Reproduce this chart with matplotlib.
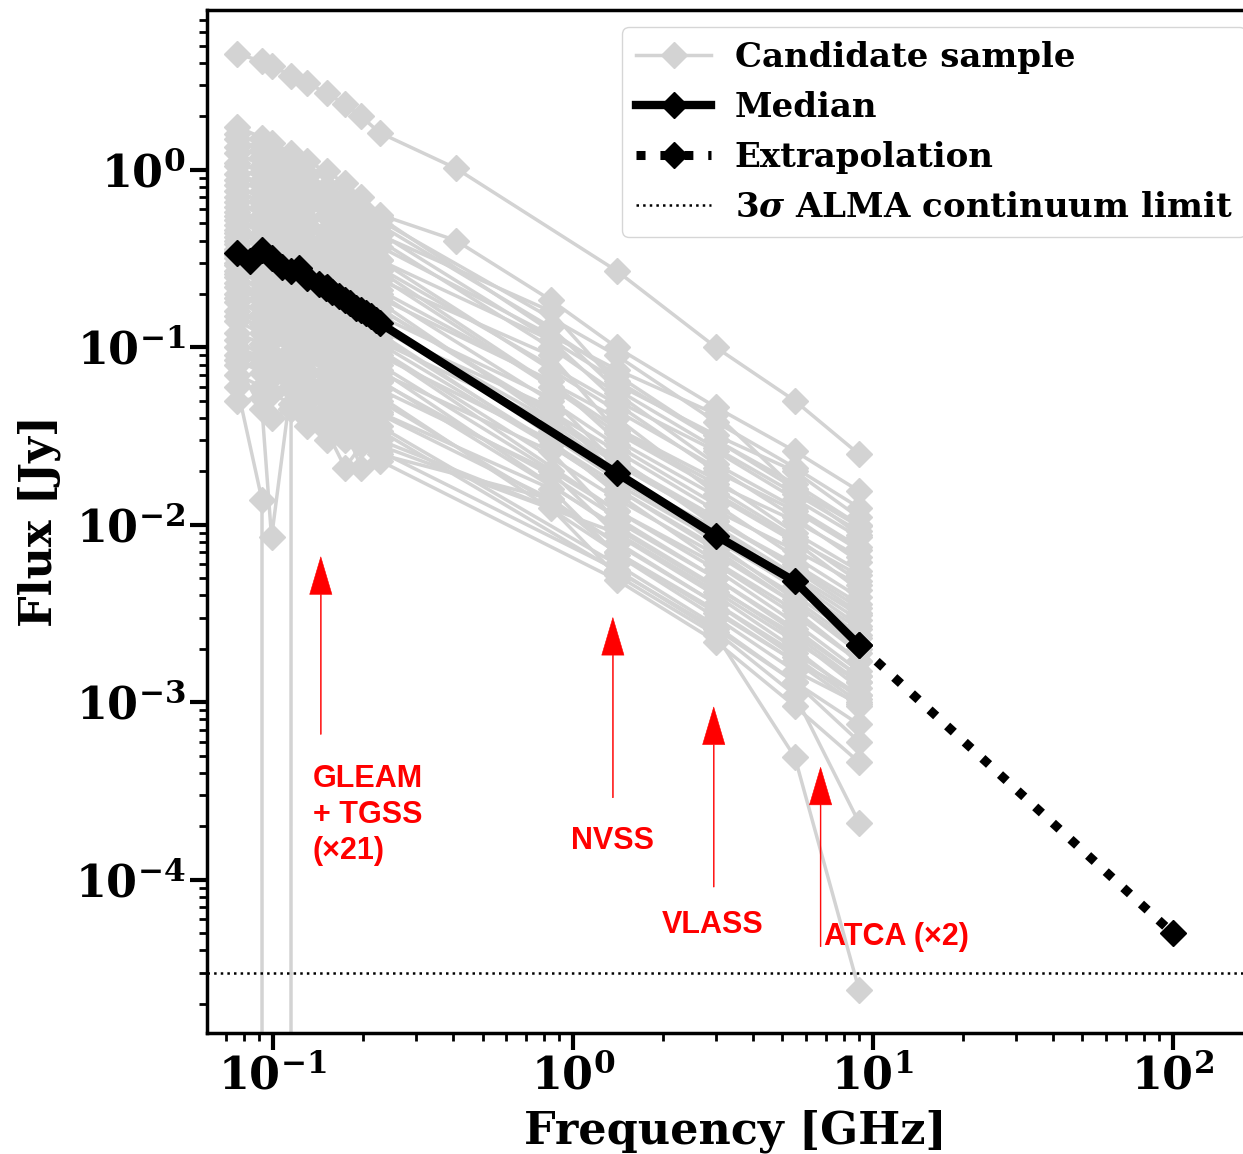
import numpy as np
import matplotlib

matplotlib.use("Agg")
import matplotlib.pyplot as plt

nan = np.nan

# frequencies [GHz]
low_freqs = [0.076, 0.092, 0.099, 0.115, 0.130, 0.151, 0.174, 0.197, 0.227]  # GLEAM + TGSS
freq_mrc = 0.408
freq_sumss = 0.843
freq_nvss = 1.4
freq_vlass = 3.0
freq_atca = [5.5, 9.0]

# candidate sample, flux [Jy] at low_freqs
low_flux = [
    [4.5, 4.1, 3.85, 3.4, 3.1, 2.7, 2.35, 2.0, 1.62],
    [1.75, 1.52, 1.42, 1.25, 1.12, 0.98, 0.84, 0.70, 0.56],
    [1.5, 1.3, 1.22, 1.05, 0.92, 0.80, 0.70, 0.60, 0.52],
    [1.25, 1.05, 0.98, 0.86, 0.74, 0.66, 0.58, 0.50, 0.43],
    [1.05, 0.88, 0.84, 0.72, 0.64, 0.55, 0.48, 0.43, 0.37],
    [0.88, 0.76, 0.68, 0.60, 0.53, 0.46, 0.41, 0.36, 0.31],
    [0.76, 0.66, 0.60, 0.52, 0.47, 0.40, 0.35, 0.31, 0.28],
    [0.66, 0.55, 0.52, 0.45, 0.40, 0.35, 0.31, 0.27, 0.24],
    [0.58, 0.50, 0.45, 0.40, 0.35, 0.30, 0.27, 0.24, 0.21],
    [0.52, 0.44, 0.41, 0.36, 0.31, 0.28, 0.24, 0.21, 0.19],
    [0.46, 0.39, 0.37, 0.31, 0.28, 0.24, 0.21, 0.19, 0.165],
    [0.42, 0.36, 0.32, 0.29, 0.25, 0.22, 0.19, 0.17, 0.15],
    [0.38, 0.33, 0.30, 0.26, 0.23, 0.20, 0.18, 0.155, 0.135],
    [0.35, 0.30, 0.27, 0.24, 0.21, 0.185, 0.16, 0.145, 0.125],
    [0.32, 0.28, 0.25, 0.22, 0.19, 0.17, 0.15, 0.13, 0.115],
    [0.30, 0.25, 0.23, 0.205, 0.18, 0.16, 0.14, 0.12, 0.108],
    [0.27, 0.23, 0.21, 0.185, 0.165, 0.14, 0.125, 0.11, 0.097],
    [0.25, 0.21, 0.20, 0.17, 0.15, 0.13, 0.115, 0.10, 0.09],
    [0.22, 0.19, 0.17, 0.15, 0.135, 0.115, 0.10, 0.09, 0.08],
    [0.20, 0.17, 0.16, 0.135, 0.12, 0.105, 0.092, 0.082, 0.072],
    [0.18, 0.155, 0.14, 0.125, 0.108, 0.095, 0.083, 0.073, 0.065],
    [0.16, 0.135, 0.125, 0.11, 0.097, 0.085, 0.075, 0.065, 0.058],
    [0.14, 0.12, 0.11, 0.096, 0.085, 0.074, 0.065, 0.057, 0.050],
    [0.12, 0.105, 0.092, 0.082, 0.073, 0.064, 0.056, 0.049, 0.043],
    [0.10, 0.088, 0.078, 0.070, 0.060, 0.053, 0.047, 0.041, 0.036],
    [0.085, 0.072, 0.068, 0.058, 0.052, 0.045, 0.040, 0.035, 0.030],
    [0.07, 0.060, 0.055, 0.048, 0.043, 0.037, 0.033, 0.029, 0.026],
    [0.05, 0.052, 0.040, 0.045, 0.036, 0.034, 0.021, 0.028, 0.023],
    [0.06, 0.0138, -0.02, 0.045, 0.040, 0.030, 0.035, 0.021, 0.025],
    [0.08, 0.045, 0.0085, 0.06, 0.05, 0.041, 0.03, 0.032, 0.028],
    [1.6, 1.38, 1.25, 1.08, 0.95, 0.80, 0.70, 0.62, 0.54],
    [1.35, 1.18, 1.10, 0.95, 0.85, 0.73, 0.64, 0.56, 0.49],
    [1.1, 0.97, 0.90, 0.80, 0.70, 0.62, 0.55, 0.49, 0.44],
    [0.95, 0.84, 0.78, 0.70, 0.63, 0.56, 0.50, 0.45, 0.40],
    [0.82, 0.68, 0.64, 0.55, 0.48, 0.41, 0.35, 0.31, 0.27],
    [0.70, 0.62, 0.57, 0.52, 0.47, 0.42, 0.38, 0.34, 0.31],
    [0.62, 0.50, 0.47, 0.40, 0.34, 0.29, 0.25, 0.21, 0.18],
    [0.55, 0.49, 0.46, 0.41, 0.38, 0.34, 0.30, 0.28, 0.25],
    [0.49, 0.40, 0.37, 0.31, 0.27, 0.22, 0.19, 0.16, 0.14],
    [0.44, 0.39, 0.36, 0.33, 0.30, 0.27, 0.24, 0.22, 0.20],
    [0.40, 0.33, 0.30, 0.26, 0.22, 0.19, 0.16, 0.14, 0.12],
    [0.36, 0.32, 0.30, 0.27, 0.25, 0.22, 0.20, 0.18, 0.165],
    [0.33, 0.27, 0.25, 0.21, 0.18, 0.15, 0.13, 0.11, 0.095],
    [0.29, 0.26, 0.24, 0.22, 0.20, 0.18, 0.16, 0.145, 0.13],
    [0.26, 0.21, 0.19, 0.165, 0.14, 0.12, 0.10, 0.088, 0.075],
    [0.23, 0.20, 0.19, 0.17, 0.155, 0.14, 0.125, 0.115, 0.105],
    [0.19, 0.15, 0.14, 0.12, 0.10, 0.085, 0.072, 0.062, 0.053],
    [0.15, 0.13, 0.125, 0.11, 0.10, 0.088, 0.079, 0.071, 0.064],
    [0.11, 0.09, 0.085, 0.07, 0.062, 0.052, 0.045, 0.039, 0.034],
    [0.09, 0.082, 0.076, 0.068, 0.063, 0.056, 0.051, 0.046, 0.042],
]
mrc_flux = {0: 1.02, 1: 0.40}
sumss_flux = [nan, 0.185, nan, 0.16, nan, 0.11, nan, 0.09, nan, 0.065,
              nan, 0.052, nan, 0.046, nan, 0.038, nan, 0.030, nan, 0.026,
              nan, 0.020, nan, 0.016, nan, 0.0125, nan, nan, 0.014, nan,
              nan, 0.13, nan, 0.10, nan, 0.075, nan, 0.060, nan, 0.050,
              nan, 0.042, nan, 0.034, nan, 0.028, nan, 0.019, nan, 0.014]
nvss_flux = [0.27, 0.10, 0.090, 0.062, 0.075, 0.050, 0.048, 0.034, 0.040, 0.030,
             0.026, 0.022, 0.024, 0.019, 0.017, 0.020, 0.014, 0.015, 0.012, 0.0105,
             0.0098, 0.0088, 0.0080, 0.0068, 0.0060, 0.0052, 0.0056, 0.0049, 0.0070, 0.0090,
             0.070, 0.058, 0.065, 0.055, 0.035, 0.044, 0.022, 0.033, 0.018, 0.028,
             0.016, 0.023, 0.012, 0.018, 0.0095, 0.016, 0.0070, 0.011, 0.0055, 0.0078]
vlass_flux = [0.10, 0.046, 0.038, 0.032, 0.042, 0.026, 0.020, 0.017, 0.015, 0.0145,
              0.012, 0.0105, 0.0098, 0.0095, 0.0082, 0.0078, 0.0068, 0.0062, 0.0056, 0.0050,
              0.0045, 0.0040, 0.0036, 0.0030, 0.0027, 0.0024, 0.0025, 0.0022, 0.0032, 0.0042,
              0.030, 0.027, 0.030, 0.022, 0.018, 0.021, 0.0105, 0.016, 0.0090, 0.013,
              0.0075, 0.011, 0.0060, 0.0085, 0.0044, 0.0072, 0.0033, 0.0050, 0.0026, 0.0036]
atca55_flux = [0.050, 0.026, 0.021, 0.020, 0.016, 0.014, 0.012, 0.0105, 0.0082, 0.0080,
               0.0072, 0.0060, 0.0052, 0.0048, 0.0045, 0.0038, 0.0036, 0.0033, 0.0028, 0.0026,
               0.0023, 0.0020, 0.0018, 0.0015, 0.0013, 0.00049, 0.0011, 0.00095, 0.0017, 0.0022,
               0.017, 0.015, 0.016, 0.0125, 0.0090, 0.011, 0.0058, 0.0085, 0.0050, 0.0066,
               0.0040, 0.0056, 0.0031, 0.0044, 0.0024, 0.0036, 0.0017, 0.0025, 0.0013, 0.0019]
atca9_flux = [0.025, 0.0155, 0.0125, 0.0110, 0.0098, 0.0085, 0.0072, 0.0066, 0.0052, 0.0043,
              0.0046, 0.0036, 0.0031, 0.0027, 0.0024, 0.0021, 0.0019, 0.0017, 0.0015, 0.0014,
              0.0012, 0.00105, 0.00100, 0.00098, 0.00060, 0.000024, 0.00021, 0.00046, 0.0011, 0.0013,
              0.0100, 0.0092, 0.0088, 0.0075, 0.0055, 0.0062, 0.0034, 0.0048, 0.0029, 0.0039,
              0.0023, 0.0032, 0.0017, 0.0026, 0.0013, 0.0020, 0.00095, 0.0014, 0.00075, 0.0011]

# median spectrum
median_freqs = [0.076, 0.084, 0.092, 0.099, 0.107, 0.115, 0.122, 0.130, 0.143, 0.150, 0.151,
                0.158, 0.166, 0.174, 0.181, 0.189, 0.197, 0.204, 0.212, 0.220, 0.227,
                1.4, 3.0, 5.5, 9.0]
median_flux = [0.341, 0.307, 0.354, 0.319, 0.284, 0.270, 0.281, 0.246, 0.228, 0.216, 0.219,
               0.205, 0.195, 0.185, 0.178, 0.167, 0.163, 0.156, 0.150, 0.143, 0.137,
               0.0196, 0.0087, 0.0048, 0.0021]
extrap_freqs = [9.0, 100.0]
extrap_flux = [0.0021, 5.0e-5]
alma_limit = 3.0e-5

# survey annotations: (label, arrow x, arrow tail, arrow head, text x, text y, ha)
surveys = [
    ("GLEAM\n+ TGSS\n(×21)", 0.1445, 6.6e-4, 6.6e-3, 0.136, 2.32e-4, "left"),
    ("NVSS", 1.36, 2.9e-4, 3.0e-3, 1.36, 1.65e-4, "center"),
    ("VLASS", 2.95, 9.1e-5, 9.4e-4, 2.92, 5.57e-5, "center"),
    ("ATCA (×2)", 6.7, 4.2e-5, 4.3e-4, 6.9, 4.77e-5, "left"),
]

plt.rcParams["font.family"] = "DejaVu Serif"
plt.rcParams["font.weight"] = "bold"
plt.rcParams["axes.labelweight"] = "bold"
plt.rcParams["mathtext.fontset"] = "custom"
plt.rcParams["mathtext.rm"] = "DejaVu Serif:bold"
plt.rcParams["mathtext.it"] = "DejaVu Serif:bold:italic"
plt.rcParams["mathtext.bf"] = "DejaVu Serif:bold"

fig = plt.figure(figsize=(12.43, 11.54), dpi=100)
ax = fig.add_axes([0.1665, 0.1049, 0.8496, 0.8865])

grey = "lightgrey"
for i, row in enumerate(low_flux):
    nu = list(low_freqs)
    s = list(row)
    if i in mrc_flux:
        nu.append(freq_mrc)
        s.append(mrc_flux[i])
    if not np.isnan(sumss_flux[i]):
        nu.append(freq_sumss)
        s.append(sumss_flux[i])
    nu += [freq_nvss, freq_vlass] + freq_atca
    s += [nvss_flux[i], vlass_flux[i], atca55_flux[i], atca9_flux[i]]
    ax.plot(nu, s, color=grey, marker="D", ms=13, lw=2.5, zorder=1,
            label="Candidate sample" if i == 0 else None)

ax.plot(median_freqs, median_flux, color="k", marker="D", ms=13, lw=6, zorder=3, label="Median")
ax.plot(extrap_freqs, extrap_flux, color="k", marker="D", ms=13, lw=6.5, ls=":", zorder=3,
        label="Extrapolation")
ax.axhline(alma_limit, color="k", ls=":", lw=1.8, zorder=2, label=r"3$\sigma$ ALMA continuum limit")

for label, xa, y0, y1, xt, yt, ha in surveys:
    ax.annotate("", xy=(xa, y1), xytext=(xa, y0),
                arrowprops=dict(color="red", width=0.6, headwidth=16, headlength=27,
                                shrink=0, lw=0.4),
                zorder=4)
    ax.text(xt, yt, label, color="red", fontsize=22, ha=ha, va="center",
            family="Liberation Sans", weight="bold", linespacing=1.25, zorder=4)

ax.set_xscale("log")
ax.set_yscale("log")
ax.set_xlim(0.0603, 200)
ax.set_ylim(1.37e-5, 7.97)

ax.set_xlabel("Frequency [GHz]", fontsize=32, labelpad=8)
ax.set_ylabel("Flux [Jy]", fontsize=32, labelpad=10)
ax.tick_params(which="major", labelsize=32, length=12, width=3)
ax.tick_params(which="minor", length=6, width=2)
for sp in ax.spines.values():
    sp.set_linewidth(2.5)

ax.legend(loc="upper right", fontsize=24.5, handlelength=2.2, handletextpad=0.7)

fig.savefig("out.png", dpi=100)
plt.close(fig)
